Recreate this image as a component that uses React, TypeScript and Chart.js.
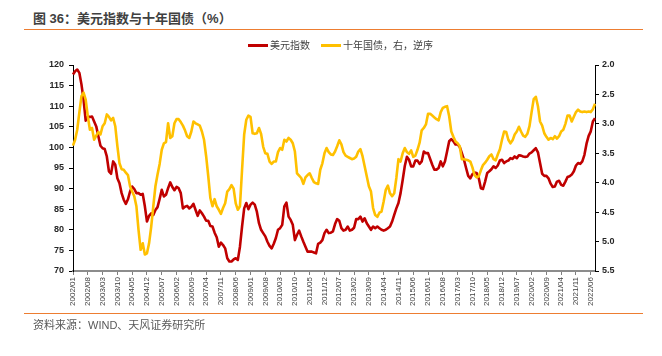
import React, { useEffect, useRef } from "react";
import { Chart, registerables } from "chart.js";

Chart.register(...registerables);

// ---- categories: monthly, 2002/01 .. 2022/08 ----
const START_YEAR = 2002;
const MONTH_COUNT = 248;
const months: string[] = [];
for (let i = 0; i < MONTH_COUNT; i++) {
  const y = START_YEAR + Math.floor(i / 12);
  const m = (i % 12) + 1;
  months.push(`${y}/${m < 10 ? "0" + m : m}`);
}
const LABEL_STEP = 7;

const TITLE = "图 36：美元指数与十年国债（%）";
const SOURCE = "资料来源：WIND、天风证券研究所";
const SERIES_DXY = "美元指数";
const SERIES_CGB = "十年国债，右，逆序";

const leftTicks = { min: 70, max: 120, step: 5 };
const rightTicks = { min: 2.0, max: 5.5, step: 0.5 };

// 美元指数
const dxy: number[] = [
  117.7, 118.5, 118.9, 118.1, 115.3, 111.6, 106.5, 107.4, 107.4, 107.5, 106.3, 105.1,
  102.7, 100.4, 99.8, 99.6, 97.8, 94.2, 93.6, 96.6, 95.8, 92.5, 91.3, 88.9,
  87.3, 86.3, 87.4, 89.3, 90.5, 89.9, 88.9, 88.9, 88.5, 88.7, 85.7, 82.0,
  83.4, 84.0, 83.6, 84.8, 85.5, 87.5, 89.7, 88.1, 88.5, 90.1, 91.5, 90.4,
  89.6, 90.4, 90.1, 88.9, 85.2, 85.6, 85.8, 85.2, 85.6, 86.3, 84.8, 83.4,
  84.7, 84.0, 83.2, 82.2, 82.2, 80.9, 80.8, 79.3, 78.2, 75.9, 76.9, 76.3,
  75.5, 73.1, 72.3, 72.3, 72.8, 73.1, 72.7, 75.9, 80.8, 85.2, 86.5, 85.0,
  86.1, 86.6, 86.1, 84.4, 81.6, 80.0, 79.2, 78.4, 77.1, 76.1, 75.5, 76.6,
  78.0, 80.0, 80.4, 81.2, 85.7, 86.6, 83.2, 82.4, 81.2, 77.5, 78.8, 79.8,
  78.4, 77.1, 75.9, 74.7, 74.7, 74.7, 74.5, 74.3, 76.6, 76.9, 77.5, 79.2,
  80.0, 79.2, 79.3, 79.6, 81.4, 82.6, 82.2, 80.4, 79.8, 80.0, 80.8, 79.8,
  80.0, 80.5, 82.6, 82.6, 83.2, 82.0, 82.8, 81.6, 80.8, 80.0, 80.8, 80.4,
  80.8, 80.4, 80.0, 79.8, 80.0, 80.4, 80.8, 82.0, 83.6, 85.2, 86.5, 88.9,
  92.1, 95.5, 97.7, 97.0, 95.4, 95.4, 96.8, 96.8, 96.0, 96.6, 99.0, 98.6,
  98.6, 97.2, 95.8, 94.6, 94.6, 95.0, 96.6, 95.4, 96.6, 99.0, 101.5, 102.0,
  101.5, 100.7, 100.7, 100.1, 98.6, 97.0, 95.0, 93.1, 92.5, 93.5, 93.9, 93.8,
  92.5, 90.1, 89.9, 91.7, 93.8, 94.2, 94.7, 95.4, 95.0, 95.6, 96.8, 97.0,
  96.2, 96.6, 96.8, 97.4, 97.2, 97.8, 97.4, 98.1, 98.0, 97.8, 97.7, 97.8,
  98.5, 98.8, 99.3, 99.8, 98.8, 96.2, 93.6, 93.1, 93.1, 92.5, 91.2, 90.4,
  90.5, 91.7, 91.9, 90.9, 90.7, 91.7, 92.8, 93.0, 93.4, 94.2, 95.6, 96.2,
  96.0, 96.6, 98.2, 100.9, 102.8, 103.9, 106.3, 107.1,
];

// 十年国债 (%)
const cgb10y: number[] = [
  3.37, 3.27, 3.10, 2.81, 2.53, 2.47, 2.59, 2.87, 3.10, 3.07, 3.27, 3.20,
  3.14, 3.18, 3.04, 2.99, 2.84, 2.88, 2.94, 2.90, 3.04, 3.38, 3.67, 3.77,
  3.78, 3.83, 3.87, 4.06, 4.15, 4.23, 4.40, 4.80, 5.14, 5.03, 5.22, 5.20,
  5.03, 4.75, 4.40, 4.06, 3.86, 3.68, 3.44, 3.33, 3.31, 2.99, 3.24, 3.21,
  2.99, 2.92, 2.92, 2.97, 3.03, 3.11, 3.21, 3.24, 3.13, 2.96, 2.99, 3.01,
  3.03, 3.13, 3.27, 3.55, 3.89, 4.26, 4.40, 4.28, 4.40, 4.46, 4.53, 4.43,
  4.35, 4.15, 4.11, 4.04, 4.10, 4.35, 4.46, 4.40, 3.78, 3.18, 2.93, 2.86,
  2.88, 3.16, 3.17, 3.16, 3.07, 3.17, 3.39, 3.50, 3.51, 3.64, 3.68, 3.64,
  3.64, 3.48, 3.41, 3.44, 3.27, 3.30, 3.24, 3.27, 3.33, 3.47, 3.84, 3.88,
  3.92, 4.02, 3.91, 3.87, 3.84, 3.92, 3.99, 4.01, 4.02, 3.78, 3.67, 3.50,
  3.41, 3.48, 3.52, 3.53, 3.47, 3.38, 3.28, 3.35, 3.48, 3.54, 3.56, 3.58,
  3.60, 3.59, 3.56, 3.47, 3.43, 3.55, 3.72, 3.89, 4.06, 4.15, 4.43, 4.55,
  4.58, 4.51, 4.49, 4.32, 4.12, 4.05, 4.18, 4.23, 4.18, 3.92, 3.60, 3.64,
  3.50, 3.41, 3.48, 3.51, 3.45, 3.56, 3.54, 3.44, 3.32, 3.11, 3.07, 3.01,
  2.83, 2.83, 2.86, 2.89, 2.92, 2.94, 2.80, 2.73, 2.71, 2.70, 2.87, 3.13,
  3.22, 3.30, 3.33, 3.38, 3.60, 3.60, 3.61, 3.62, 3.64, 3.74, 3.87, 3.91,
  3.89, 3.79, 3.70, 3.66, 3.61, 3.55, 3.52, 3.60, 3.62, 3.52, 3.43, 3.27,
  3.13, 3.14, 3.27, 3.33, 3.28, 3.18, 3.13, 3.05, 3.13, 3.20, 3.22, 3.17,
  3.04, 2.80, 2.58, 2.54, 2.70, 2.96, 3.03, 3.16, 3.22, 3.27, 3.24, 3.26,
  3.21, 3.25, 3.21, 3.13, 3.10, 3.00, 2.86, 2.86, 2.96, 2.88, 2.80, 2.76,
  2.79, 2.80, 2.79, 2.80, 2.79, 2.80, 2.75, 2.66,
];

const RED = "#C00000";
const YELLOW = "#FFC000";
const ORANGE_RULE = "#ED7D31";
const LATIN = "'Liberation Sans', Arial, 'Noto Sans CJK SC', sans-serif";
const CJK = "'Liberation Sans', 'Noto Sans CJK SC', sans-serif";

export default function App() {
  const canvasRef = useRef<HTMLCanvasElement | null>(null);

  useEffect(() => {
    const canvas = canvasRef.current;
    if (!canvas) return;
    const chart = new Chart(canvas, {
      type: "line",
      data: {
        labels: months,
        datasets: [
          {
            label: SERIES_DXY,
            data: dxy,
            borderColor: RED,
            backgroundColor: RED,
            borderWidth: 2.6,
            pointRadius: 0,
            borderJoinStyle: "round",
            yAxisID: "y",
            order: 2,
          },
          {
            label: SERIES_CGB,
            data: cgb10y,
            borderColor: YELLOW,
            backgroundColor: YELLOW,
            borderWidth: 2.6,
            pointRadius: 0,
            borderJoinStyle: "round",
            yAxisID: "y1",
            order: 1,
          },
        ],
      },
      options: {
        responsive: false,
        animation: false,
        events: [],
        layout: { padding: { top: 65, bottom: 0, left: 0, right: 0 } },
        plugins: {
          legend: { display: false },
          tooltip: { enabled: false },
        },
        scales: {
          x: {
            type: "category",
            offset: false,
            ticks: {
              autoSkip: false,
              maxRotation: 90,
              minRotation: 90,
              padding: 2,
              color: "#404040",
              font: { family: LATIN, size: 8 },
              callback: (_v: any, i: number) => (i % LABEL_STEP === 0 ? months[i] : null),
            },
            grid: {
              display: true,
              drawOnChartArea: false,
              drawTicks: true,
              tickLength: 4,
              color: "#7f7f7f",
              lineWidth: 1,
            },
            border: { display: true, color: "#8c8c8c", width: 2 },
            afterFit: (s: any) => {
              s.height = 85;
            },
          },
          y: {
            position: "left",
            min: leftTicks.min,
            max: leftTicks.max,
            ticks: {
              stepSize: leftTicks.step,
              padding: 5,
              color: "#262626",
              font: { family: LATIN, size: 9, weight: "bold" },
            },
            grid: { drawOnChartArea: false, drawTicks: true, tickLength: 4, color: "#000000" },
            border: { display: true, color: "#000000", width: 1 },
            afterFit: (s: any) => {
              s.width = 73;
            },
          },
          y1: {
            position: "right",
            reverse: true,
            min: rightTicks.min,
            max: rightTicks.max,
            ticks: {
              stepSize: rightTicks.step,
              padding: 3,
              color: "#262626",
              font: { family: LATIN, size: 9, weight: "bold" },
              callback: (v: any) => Number(v).toFixed(1),
            },
            grid: { drawOnChartArea: false, drawTicks: true, tickLength: 4, color: "#000000" },
            border: { display: true, color: "#000000", width: 1 },
            afterFit: (s: any) => {
              s.width = 67;
            },
          },
        },
      },
    } as any);
    return () => chart.destroy();
  }, []);

  return (
    <div
      style={{
        position: "fixed",
        left: 0,
        top: 0,
        width: 662,
        height: 356,
        background: "#ffffff",
        overflow: "hidden",
      }}
    >
      <div
        style={{
          position: "absolute",
          left: 33,
          top: 11,
          fontFamily: CJK,
          fontWeight: "bold",
          fontSize: 13,
          lineHeight: "15px",
          color: "#404040",
          whiteSpace: "nowrap",
        }}
      >
        {TITLE}
      </div>
      <div style={{ position: "absolute", left: 24, top: 29, width: 619, height: 1, background: ORANGE_RULE }} />
      <canvas ref={canvasRef} width={662} height={356} style={{ position: "absolute", left: 0, top: 0 }} />
      {/* legend */}
      <div
        style={{
          position: "absolute",
          top: 39,
          left: 248,
          display: "flex",
          alignItems: "center",
          fontFamily: CJK,
          fontSize: 10,
          lineHeight: "13px",
          color: "#404040",
          whiteSpace: "nowrap",
        }}
      >
        <span style={{ display: "inline-block", width: 20, height: 3, background: RED, marginRight: 2 }} />
        <span>{SERIES_DXY}</span>
        <span style={{ display: "inline-block", width: 20, height: 3, background: YELLOW, marginLeft: 11, marginRight: 2 }} />
        <span>{SERIES_CGB}</span>
      </div>
      <div style={{ position: "absolute", left: 24, top: 313, width: 619, height: 1, background: ORANGE_RULE }} />
      <div
        style={{
          position: "absolute",
          left: 33,
          top: 318,
          fontFamily: CJK,
          fontSize: 11,
          lineHeight: "14px",
          color: "#595959",
          whiteSpace: "nowrap",
        }}
      >
        {SOURCE}
      </div>
    </div>
  );
}
